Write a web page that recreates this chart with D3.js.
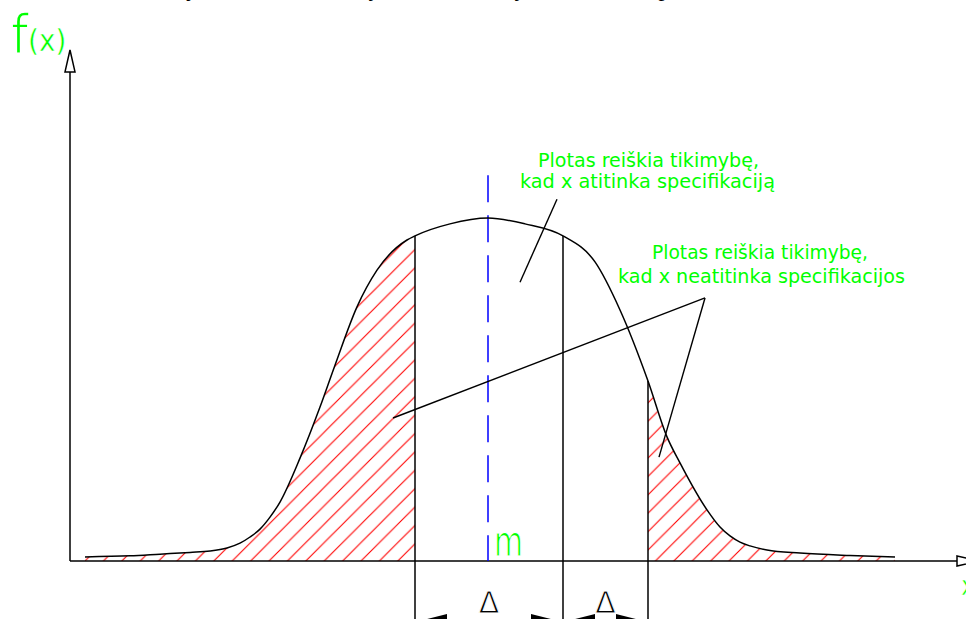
<!DOCTYPE html>
<html>
<head>
<meta charset="utf-8">
<script src="https://cdn.jsdelivr.net/npm/d3@7"></script>
<style>
  html, body { margin: 0; background: #fff; }
  svg { display: block; }
</style>
</head>
<body>
<svg id="chart" width="966" height="619"></svg>
<script>
// Density curve f(x): x in units around the mean m, f relative to the peak
const curveX = [-4.03, -3.58, -3.28, -2.98, -2.78, -2.61, -2.48, -2.38, -2.28, -2.18, -2.08,
                -1.88, -1.68, -1.53, -1.31, -1.11, -0.81, -0.73, -0.38, 0, 0.37, 0.75,
                1.07, 1.32, 1.60, 1.79, 1.92, 2.19, 2.32, 2.42, 2.52, 2.62, 2.79, 3.12, 3.62, 4.07];
const curveF = [0.012, 0.015, 0.020, 0.025, 0.029, 0.038, 0.052, 0.070, 0.093, 0.128, 0.172,
                0.300, 0.449, 0.571, 0.741, 0.848, 0.936, 0.948, 0.983, 1.000, 0.983, 0.948,
                0.872, 0.732, 0.525, 0.362, 0.286, 0.149, 0.099, 0.073, 0.055, 0.044, 0.032, 0.023, 0.016, 0.012];

// Specification boundaries and the mean
const lowerLimit = -0.73;
const meanValue = 0;
const upperLimit = 0.75;
const outerLimit = 1.60;
const meanLineTop = 1.125;

// Axis extents (data units)
const xExtent = [-4.18, 4.69];
const yExtent = [0, 1.49];

// Labels
const axisLabelY = ["f", "(x)"];
const axisLabelX = "x";
const meanLabel = "m";
const deltaLabel = "\u0394";
const noteLines = [
  ["Plotas reiškia tikimybę,", "kad x atitinka specifikaciją"],
  ["Plotas reiškia tikimybę,", "kad x neatitinka specifikacijos"]
];
const headerText = "tankio funkcija, kai reikšmės tolydžios, ir tikimybė nusakoma plotu";

// Leader lines from the notes to the areas [x1, f1, x2, f2]
const leaderLines = [
  [0.69, 1.055, 0.32, 0.813],
  [-0.95, 0.417, 2.17, 0.767],
  [2.17, 0.767, 1.71, 0.303]
];
// Dimension chains below the axis [from, to]
const dimensions = [[lowerLimit, upperLimit], [upperLimit, outerLimit]];
const dimensionLevel = -0.178;

const svg = d3.select("#chart");
const x = d3.scaleLinear().domain(xExtent).range([70, 957]);
const y = d3.scaleLinear().domain(yExtent).range([561, 50]);

const points = curveX.map((v, i) => ({ x: v, f: curveF[i] }));
const green = "#00ff00";
const labelFont = "'DejaVu Sans Condensed', 'Liberation Sans Narrow', sans-serif";

// Diagonal hatch pattern
const defs = svg.append("defs");
const step = 18.4;
const pat = defs.append("pattern")
  .attr("id", "hatch")
  .attr("patternUnits", "userSpaceOnUse")
  .attr("width", step).attr("height", step)
  .attr("patternTransform", "translate(646,0)");
pat.append("path")
  .attr("d", `M-2,2 L2,-2 M0,${step} L${step},0 M${step - 2},${step + 2} L${step + 2},${step - 2}`)
  .attr("stroke", "#ff0000").attr("stroke-width", 1.1).attr("fill", "none");

const area = d3.area().x(d => x(d.x)).y0(y(0)).y1(d => y(d.f)).curve(d3.curveMonotoneX);
const line = d3.line().x(d => x(d.x)).y(d => y(d.f)).curve(d3.curveMonotoneX);

// Hatched tails: outside the lower limit and beyond the outer limit
svg.append("path").datum(points.filter(d => d.x <= lowerLimit))
  .attr("d", area).attr("fill", "url(#hatch)");
svg.append("path").datum(points.filter(d => d.x >= outerLimit))
  .attr("d", area).attr("fill", "url(#hatch)");

// Header text line running off the top edge
svg.append("text")
  .attr("x", 60).attr("y", -4)
  .attr("font-family", "'Liberation Serif', 'Times New Roman', serif")
  .attr("font-size", 24).attr("fill", "#000")
  .text(headerText);

// Axes with open arrowheads
const ax = svg.append("g").attr("stroke", "#000").attr("stroke-width", 1.5).attr("fill", "#fff");
ax.append("line").attr("x1", x(xExtent[0])).attr("y1", y(0)).attr("x2", x(xExtent[0])).attr("y2", y(1.426));
ax.append("line").attr("x1", x(xExtent[0])).attr("y1", y(0)).attr("x2", x(xExtent[1])).attr("y2", y(0));
const yx = x(xExtent[0]);
ax.append("path").attr("d", `M${yx},${y(yExtent[1])} L${yx - 5},${y(1.426)} L${yx + 5},${y(1.426)} Z`);
const xx = x(xExtent[1]);
ax.append("path").attr("d", `M${xx},${y(0) - 5} L${xx + 22},${y(0)} L${xx},${y(0) + 5} Z`);

// Mean line
svg.append("line")
  .attr("x1", x(meanValue)).attr("x2", x(meanValue))
  .attr("y1", y(meanLineTop)).attr("y2", y(0))
  .attr("stroke", "#0000ff").attr("stroke-width", 1.5)
  .attr("stroke-dasharray", "27,13");

// Density curve
svg.append("path").datum(points)
  .attr("d", line).attr("fill", "none")
  .attr("stroke", "#000").attr("stroke-width", 1.5);

// Limit lines from the curve down through the dimension chain
const fAt = v => curveF[curveX.indexOf(v)];
[lowerLimit, upperLimit, outerLimit].forEach(v => {
  svg.append("line")
    .attr("x1", x(v)).attr("x2", x(v))
    .attr("y1", y(fAt(v))).attr("y2", y(-0.3))
    .attr("stroke", "#000").attr("stroke-width", 1.5);
});

// Leader lines
svg.append("g").selectAll("line").data(leaderLines).join("line")
  .attr("x1", d => x(d[0])).attr("y1", d => y(d[1]))
  .attr("x2", d => x(d[2])).attr("y2", d => y(d[3]))
  .attr("stroke", "#000").attr("stroke-width", 1.4);

// Thin lettering: glyphs trimmed by a white outline painted over the fill
const thin = (sel, w) => sel.attr("stroke", "#fff").attr("stroke-width", w);

// Dimension chains with filled arrowheads and Δ labels
const dimY = y(dimensionLevel);
dimensions.forEach(([a, b]) => {
  const xa = x(a), xb = x(b);
  svg.append("line").attr("x1", xa).attr("x2", xb).attr("y1", dimY).attr("y2", dimY)
    .attr("stroke", "#000").attr("stroke-width", 1.4);
  svg.append("path").attr("d", `M${xa},${dimY} L${xa + 32},${dimY - 8} L${xa + 32},${dimY + 8} Z`).attr("fill", "#000");
  svg.append("path").attr("d", `M${xb},${dimY} L${xb - 32},${dimY - 8} L${xb - 32},${dimY + 8} Z`).attr("fill", "#000");
  thin(svg.append("text")
    .attr("x", (xa + xb) / 2).attr("y", 613)
    .attr("text-anchor", "middle")
    .attr("font-family", "'DejaVu Sans', sans-serif")
    .attr("font-size", 30).attr("fill", "#000")
    .text(deltaLabel), 0.9);
});

// Axis labels
const fl = svg.append("text").attr("x", 11).attr("y", 53)
  .attr("font-family", labelFont).attr("fill", green);
thin(fl.append("tspan").attr("font-size", 54).text(axisLabelY[0]), 1.6);
thin(fl.append("tspan").attr("font-size", 31).attr("dy", -2).text(axisLabelY[1]), 0.5);

thin(svg.append("text").attr("x", 961).attr("y", 595)
  .attr("font-family", labelFont).attr("font-size", 27)
  .attr("fill", green).text(axisLabelX), 0.5);

thin(svg.append("text").attr("x", x(meanValue) + 6).attr("y", 556)
  .attr("font-family", labelFont).attr("font-size", 42)
  .attr("textLength", 29).attr("lengthAdjust", "spacingAndGlyphs")
  .attr("fill", green).text(meanLabel), 1.1);

// Notes
const notePos = [
  [[538, 167, 221], [520, 188, 255]],
  [[652, 259, 216], [618, 283, 287]]
];
noteLines.forEach((lines, k) => {
  lines.forEach((s, j) => {
    const [px, py, w] = notePos[k][j];
    svg.append("text").attr("x", px).attr("y", py)
      .attr("font-family", labelFont).attr("font-size", 19.5)
      .attr("textLength", w).attr("lengthAdjust", "spacingAndGlyphs")
      .attr("fill", green).text(s);
  });
});
</script>
</body>
</html>
